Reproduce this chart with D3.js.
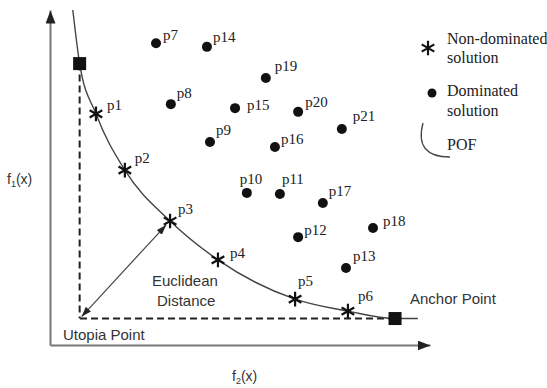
<!DOCTYPE html>
<html>
<head>
<meta charset="utf-8">
<script src="https://cdn.jsdelivr.net/npm/d3@7"></script>
<style>
  body { margin: 0; background: #fff; }
  svg { display: block; }
</style>
</head>
<body>
<svg width="547" height="388"></svg>
<script>
// non-dominated solutions (on the front)
var ndNames = ["p1", "p2", "p3", "p4", "p5", "p6"];
var ndF2 = [1.21, 1.97, 3.16, 4.42, 6.45, 7.84];
var ndF1 = [6.90, 5.22, 3.70, 2.54, 1.37, 1.01];

// dominated solutions
var dNames = ["p7", "p8", "p9", "p10", "p11", "p12", "p13", "p14", "p15", "p16", "p17", "p18", "p19", "p20", "p21"];
var dF2 = [2.79, 3.18, 4.21, 5.18, 6.05, 6.53, 7.79, 4.13, 4.87, 5.92, 7.18, 8.50, 5.68, 6.53, 7.68];
var dF1 = [9.01, 7.19, 6.06, 4.54, 4.51, 3.22, 2.30, 8.90, 7.07, 5.91, 4.24, 3.49, 7.97, 6.96, 6.45];

// anchor points + utopia point
var anchorF2 = [0.78, 9.08];
var anchorF1 = [8.40, 0.79];
var utopia = [0.78, 0.79];

// pareto front curve
var pofF2 = [0.60, 0.78, 1.21, 1.97, 3.16, 4.42, 6.45, 7.84, 9.08, 9.68];
var pofF1 = [10.0, 8.40, 6.90, 5.22, 3.70, 2.54, 1.37, 1.01, 0.79, 0.79];

// label offsets in px (dx, dy)
var labelOff = {
  p1: [11, -4], p2: [10, -7], p3: [8, -7], p4: [12, -2], p5: [3, -13], p6: [10, -10],
  p7: [7, -3], p8: [6, -6], p9: [6, -7], p10: [-7, -9], p11: [2, -10], p12: [6, -2],
  p13: [7, -7], p14: [6, -5], p15: [12, 2], p16: [6, -3], p17: [6, -7], p18: [10, -2],
  p19: [9, -7], p20: [7, -5], p21: [11, -8]
};

var SERIF = "'Liberation Serif', 'Times New Roman', 'DejaVu Serif', serif";
var SANS = "'Liberation Sans', Arial, sans-serif";

var svg = d3.select("svg");

var x = d3.scaleLinear().domain([0, 10]).range([50, 430]);
var y = d3.scaleLinear().domain([0, 10]).range([345, 10]);

var defs = svg.append("defs");
function arrowMarker(id, color, w, h) {
  defs.append("marker")
      .attr("id", id)
      .attr("viewBox", "0 0 " + w + " " + h)
      .attr("refX", w).attr("refY", h / 2)
      .attr("markerWidth", w).attr("markerHeight", h)
      .attr("markerUnits", "userSpaceOnUse")
      .attr("orient", "auto-start-reverse")
    .append("path")
      .attr("d", "M0,0L" + w + "," + (h / 2) + "L0," + h + "Z")
      .attr("fill", color);
}
arrowMarker("axisArrow", "#222", 13, 10);
arrowMarker("distArrow", "#222", 10, 7);

// axes (no ticks, just the arrowed lines)
var xAxis = svg.append("g")
    .attr("transform", "translate(0," + y(0) + ")")
    .call(d3.axisBottom(x).ticks(0).tickSize(0));
var yAxis = svg.append("g")
    .attr("transform", "translate(" + x(0) + ",0)")
    .call(d3.axisLeft(y).ticks(0).tickSize(0));
svg.selectAll(".domain").attr("stroke", "#777").attr("stroke-width", 2);
xAxis.select(".domain").attr("marker-end", "url(#axisArrow)");
yAxis.select(".domain").attr("marker-end", "url(#axisArrow)");

function axisLabel(px, py, sub) {
  svg.append("text").attr("x", px).attr("y", py)
      .attr("font-family", SANS).attr("font-size", 14).attr("fill", "#333")
      .call(function(t) {
        t.append("tspan").text("f");
        t.append("tspan").attr("dy", 3).attr("font-size", 9).text(sub);
        t.append("tspan").attr("dy", -3).text("(x)");
      });
}
axisLabel(7, 184, "1");
axisLabel(232, 381, "2");

// dashed lines from anchor points to the utopia point
svg.append("g").selectAll("line")
  .data([0, 1])
  .enter().append("line")
    .attr("x1", function(i) { return x(anchorF2[i]); })
    .attr("y1", function(i) { return y(anchorF1[i]); })
    .attr("x2", x(utopia[0]))
    .attr("y2", y(utopia[1]))
    .attr("stroke", "#222")
    .attr("stroke-width", 2)
    .attr("stroke-dasharray", "7,4");

// POF curve
var pof = d3.range(pofF2.length).map(function(i) { return [pofF2[i], pofF1[i]]; });
svg.append("path")
    .datum(pof)
    .attr("fill", "none")
    .attr("stroke", "#444")
    .attr("stroke-width", 1.4)
    .attr("d", d3.line()
        .x(function(d) { return x(d[0]); })
        .y(function(d) { return y(d[1]); })
        .curve(d3.curveMonotoneX));

// euclidean distance arrow (utopia -> p3)
svg.append("line")
    .attr("x1", x(utopia[0]) + 2).attr("y1", y(utopia[1]) - 2)
    .attr("x2", x(ndF2[2]) - 4).attr("y2", y(ndF1[2]) + 4)
    .attr("stroke", "#444")
    .attr("stroke-width", 1.2)
    .attr("marker-start", "url(#distArrow)")
    .attr("marker-end", "url(#distArrow)");

// anchor squares
svg.append("g").selectAll("rect")
  .data([0, 1])
  .enter().append("rect")
    .attr("x", function(i) { return x(anchorF2[i]) - 6.5; })
    .attr("y", function(i) { return y(anchorF1[i]) - 6.5; })
    .attr("width", 13).attr("height", 13)
    .attr("fill", "#111");

// dominated points
var dom = svg.append("g").selectAll("g")
  .data(dNames)
  .enter().append("g")
    .attr("transform", function(d, i) { return "translate(" + x(dF2[i]) + "," + y(dF1[i]) + ")"; });
dom.append("circle").attr("r", 5).attr("fill", "#111");
dom.append("text")
    .attr("font-family", SERIF).attr("font-size", 15).attr("fill", "#222")
    .attr("x", function(d) { return labelOff[d][0]; })
    .attr("y", function(d) { return labelOff[d][1]; })
    .text(function(d) { return d; });

// non-dominated points
var star = d3.symbol().type(d3.symbolAsterisk).size(150);
var nd = svg.append("g").selectAll("g")
  .data(ndNames)
  .enter().append("g")
    .attr("transform", function(d, i) { return "translate(" + x(ndF2[i]) + "," + y(ndF1[i]) + ")"; });
nd.append("path").attr("d", star).attr("stroke", "#111").attr("stroke-width", 2.2).attr("fill", "none");
nd.append("text")
    .attr("font-family", SERIF).attr("font-size", 15).attr("fill", "#222")
    .attr("x", function(d) { return labelOff[d][0]; })
    .attr("y", function(d) { return labelOff[d][1]; })
    .text(function(d) { return d; });

// annotations
var notes = [["Euclidean", 152, 286], ["Distance", 157, 306], ["Utopia Point", 63, 340], ["Anchor Point", 410, 304]];
svg.append("g").selectAll("text")
  .data(notes)
  .enter().append("text")
    .attr("font-family", SANS).attr("font-size", 15).attr("fill", "#333")
    .attr("x", function(d) { return d[1]; })
    .attr("y", function(d) { return d[2]; })
    .text(function(d) { return d[0]; });

// legend
var legend = svg.append("g");
legend.append("path").attr("transform", "translate(428,48)")
    .attr("d", star).attr("stroke", "#111").attr("stroke-width", 2.2).attr("fill", "none");
legend.append("circle").attr("cx", 432).attr("cy", 93).attr("r", 4.5).attr("fill", "#111");
legend.append("path")
    .attr("d", "M423,123Q414,157 450,157")
    .attr("fill", "none").attr("stroke", "#444").attr("stroke-width", 1.3);
var legText = [["Non-dominated", 44], ["solution", 63], ["Dominated", 96], ["solution", 116], ["POF", 150]];
legend.selectAll("text.leg")
  .data(legText)
  .enter().append("text").attr("class", "leg")
    .attr("font-family", SERIF).attr("font-size", 16).attr("fill", "#222")
    .attr("x", 447)
    .attr("y", function(d) { return d[1]; })
    .text(function(d) { return d[0]; });
</script>
</body>
</html>
